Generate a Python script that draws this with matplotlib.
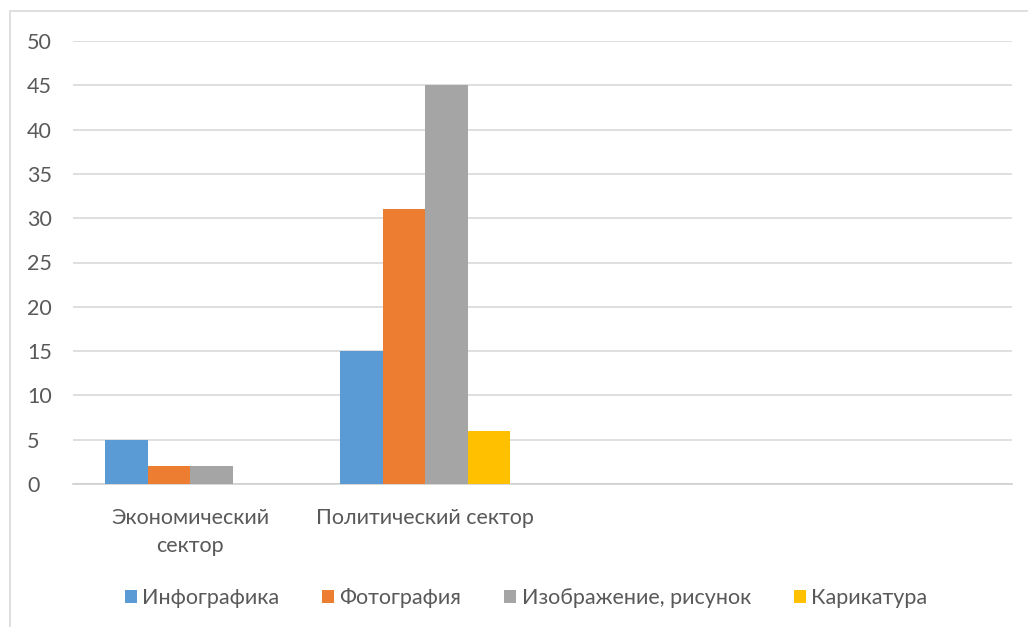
import matplotlib.pyplot as plt
import numpy as np
from matplotlib.patches import Rectangle

plt.rcParams['font.family'] = ['Lato', 'DejaVu Sans']

categories = ['Экономический\nсектор', 'Политический сектор', '', '']
series = ['Инфографика', 'Фотография', 'Изображение, рисунок', 'Карикатура']
values = [
    [5, 15, 0, 0],
    [2, 31, 0, 0],
    [2, 45, 0, 0],
    [0, 6, 0, 0],
]
colors = ['#5B9BD5', '#ED7D31', '#A5A5A5', '#FFC000']

W, H = 1028, 627
fig = plt.figure(figsize=(W / 100, H / 100), dpi=100)
ax = fig.add_axes([73 / W, 1 - 484 / H, (1012 - 73) / W, (484 - 41) / H])

# chart frame (right and bottom edges fall outside the image)
fig.patches.append(Rectangle((9.5 / W, -0.1), 1.2, 1 - 10.5 / H + 0.1,
                             transform=fig.transFigure, fill=False,
                             edgecolor='#D9D9D9', linewidth=1.2))

x = np.arange(len(categories))
bw = 0.181
for i, (name, vals, c) in enumerate(zip(series, values, colors)):
    ax.bar(x + (i - 1.5) * bw, vals, bw, color=c, label=name, zorder=3)

ax.set_xlim(-0.5, len(categories) - 0.5)
ax.set_ylim(0, 50)
ax.set_yticks(range(0, 51, 5))
ax.set_xticks(x)
ax.set_xticklabels(categories, linespacing=1.55)
ax.grid(axis='y', color='#D9D9D9', linewidth=1.2, zorder=0)
for s in ['top', 'right', 'left']:
    ax.spines[s].set_visible(False)
ax.spines['bottom'].set_color('#D0D0D0')
ax.spines['bottom'].set_linewidth(1.2)
ax.tick_params(axis='both', length=0, labelsize=15.5, colors='#595959')
ax.tick_params(axis='x', pad=17)
ax.tick_params(axis='y', pad=33)
for t in ax.get_yticklabels():
    t.set_horizontalalignment('left')

fig.legend(loc='center', bbox_to_anchor=(526 / W, 1 - 598 / H), ncol=4,
           frameon=False, fontsize=15.5, labelcolor='#595959',
           handlelength=0.55, handleheight=0.55, handletextpad=0.25,
           columnspacing=2.0)

fig.savefig('out.png', dpi=100, facecolor='white')
